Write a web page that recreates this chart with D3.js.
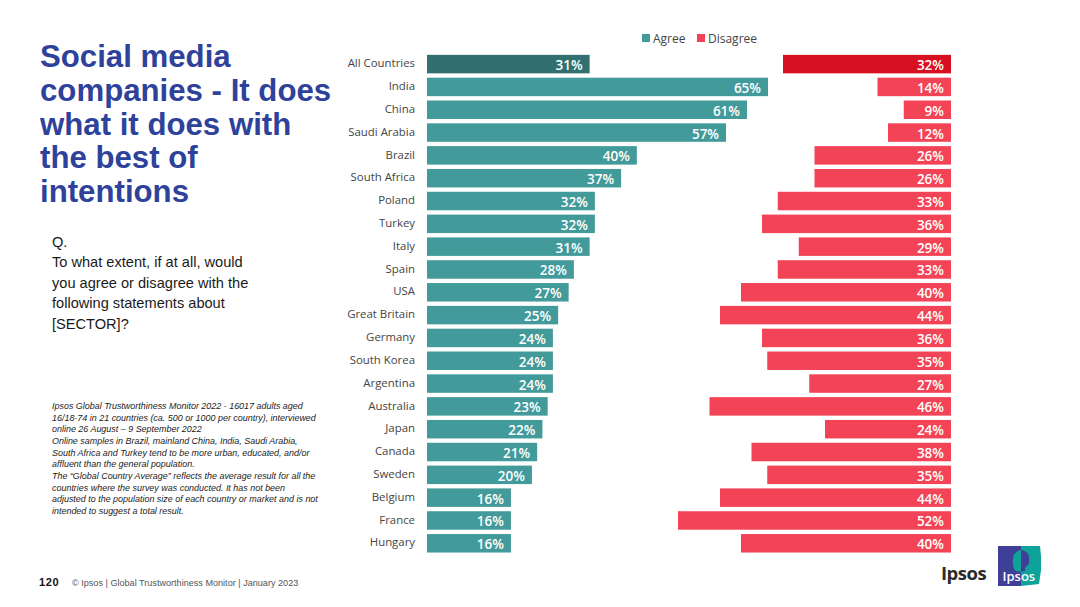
<!DOCTYPE html>
<html>
<head>
<meta charset="utf-8">
<script src="https://cdn.jsdelivr.net/npm/d3@7"></script>
<style>
  html, body { margin: 0; padding: 0; background: #fff; }
  svg { display: block; }
  text { font-family: "Liberation Sans", Arial, sans-serif; }
  .chart text { font-family: "Open Sans", sans-serif; }
</style>
</head>
<body>
<svg id="chart" width="1080" height="607"></svg>
<script>
const countries = ["All Countries", "India", "China", "Saudi Arabia", "Brazil", "South Africa", "Poland", "Turkey", "Italy", "Spain", "USA", "Great Britain", "Germany", "South Korea", "Argentina", "Australia", "Japan", "Canada", "Sweden", "Belgium", "France", "Hungary"]
const agree = [31, 65, 61, 57, 40, 37, 32, 32, 31, 28, 27, 25, 24, 24, 24, 23, 22, 21, 20, 16, 16, 16]
const disagree = [32, 14, 9, 12, 26, 26, 33, 36, 29, 33, 40, 44, 36, 35, 27, 46, 24, 38, 35, 44, 52, 40]
const legendLabels = ["Agree", "Disagree"]

const titleLines = ["Social media", "companies - It does", "what it does with", "the best of", "intentions"]
const questionLines = ["Q.", "To what extent, if at all, would", "you agree or disagree with the", "following statements about", "[SECTOR]?"]
const noteLines = [
  "Ipsos Global Trustworthiness Monitor 2022 - 16017 adults aged",
  "16/18-74 in 21 countries (ca. 500 or 1000 per country), interviewed",
  "online 26 August \u2013 9 September 2022",
  "Online samples in Brazil, mainland China, India, Saudi Arabia,",
  "South Africa and Turkey tend to be more urban, educated, and/or",
  "affluent than the general population.",
  "The \u201cGlobal Country Average\u201d reflects the average result for all the",
  "countries where the survey was conducted. It has not been",
  "adjusted to the population size of each country or market and is not",
  "intended to suggest a total result."
]

const teal = "#429a9a", tealDark = "#32706f"
const red = "#f34356", redDark = "#d61021"

const svg = d3.select("#chart")

// left hand text
const addLines = function(lines, x, y, step, size, attrs) {
  const t = svg.append("text").attr("font-size", size)
  Object.keys(attrs).forEach(k => t.attr(k, attrs[k]))
  t.selectAll("tspan").data(lines).join("tspan")
    .attr("x", x)
    .attr("y", (d, i) => y + i * step)
    .text(d => d)
}
addLines(titleLines, 40, 67, 33.8, 31.2, {"font-weight": "bold", "fill": "#2e429b"})
addLines(questionLines, 52, 246.5, 20.6, 14.6, {"fill": "#1a1a1a"})
addLines(noteLines, 52, 409, 11.65, 8.95, {"font-style": "italic", "fill": "#222"})

svg.append("text").attr("x", 39).attr("y", 585.5).attr("font-size", 11)
  .attr("font-weight", "bold").attr("fill", "#111").attr("letter-spacing", 0.6).text("120")
svg.append("text").attr("x", 72).attr("y", 586).attr("font-size", 9.1)
  .attr("fill", "#555").text("\u00a9 Ipsos | Global Trustworthiness Monitor | January 2023")

// chart
const chart = svg.append("g").attr("class", "chart")

const y = d3.scaleBand().domain(countries).range([52.7, 554.7]).paddingInner(0.19).paddingOuter(0.095)
const xAgree = d3.scaleLinear().domain([0, 65]).range([427, 768])
const xDisagree = d3.scaleLinear().domain([0, 32]).range([951, 783])

const yAxis = d3.axisLeft(y).tickSize(0).tickPadding(12)
const axisG = chart.append("g").attr("transform", "translate(427,0)").call(yAxis)
axisG.select(".domain").remove()
axisG.selectAll("text").attr("font-size", 11.4).attr("fill", "#444").attr("dy", "0.28em")

chart.selectAll(".agree").data(countries).join("rect")
  .attr("class", "agree")
  .attr("x", xAgree(0))
  .attr("y", d => y(d))
  .attr("width", (d, i) => xAgree(agree[i]) - xAgree(0))
  .attr("height", y.bandwidth())
  .attr("fill", (d, i) => i == 0 ? tealDark : teal)

chart.selectAll(".disagree").data(countries).join("rect")
  .attr("class", "disagree")
  .attr("x", (d, i) => xDisagree(disagree[i]))
  .attr("y", d => y(d))
  .attr("width", (d, i) => xDisagree(0) - xDisagree(disagree[i]))
  .attr("height", y.bandwidth())
  .attr("fill", (d, i) => i == 0 ? redDark : red)

chart.selectAll(".agree-label").data(countries).join("text")
  .attr("class", "agree-label")
  .attr("x", (d, i) => xAgree(agree[i]) - 7)
  .attr("y", d => y(d) + y.bandwidth() / 2 + 6)
  .attr("text-anchor", "end").attr("font-size", 13.5).attr("font-weight", 600).attr("fill", "#fff")
  .text((d, i) => agree[i] + "%")

chart.selectAll(".disagree-label").data(countries).join("text")
  .attr("class", "disagree-label")
  .attr("x", xDisagree(0) - 7)
  .attr("y", d => y(d) + y.bandwidth() / 2 + 6)
  .attr("text-anchor", "end").attr("font-size", 13.5).attr("font-weight", 600).attr("fill", "#fff")
  .text((d, i) => disagree[i] + "%")

// legend
const legendX = d3.scaleOrdinal().domain(legendLabels).range([642, 697])
const legend = chart.selectAll(".legend").data(legendLabels).join("g")
  .attr("class", "legend")
  .attr("transform", d => "translate(" + legendX(d) + ",34)")
legend.append("rect").attr("width", 8).attr("height", 8).attr("fill", (d, i) => i == 0 ? teal : red)
legend.append("text").attr("x", 11).attr("y", 8.5).attr("font-size", 12).attr("fill", "#444").text(d => d)

// logos
svg.append("text").attr("x", 941).attr("y", 580).attr("font-size", 18.5).attr("font-weight", "bold")
  .attr("fill", "#2b2b2b").attr("letter-spacing", -0.5).style("font-family", "'Open Sans', sans-serif").text("Ipsos")
const logo = svg.append("g").attr("transform", "translate(998,546)")
const headShape = d3.line().curve(d3.curveCardinalClosed)([[15, 19], [16, 9], [23, 4], [30, 8], [31, 17], [27, 22], [27, 25], [18, 25]])
logo.append("rect").attr("width", 23).attr("height", 40).attr("fill", "#3f3f98")
logo.append("path").attr("d", d3.line()([[23, 0], [42, 0], [43, 10], [43, 24], [41, 38], [23, 40]])).attr("fill", "#0ea39a")
logo.append("clipPath").attr("id", "head-left").append("rect").attr("width", 23).attr("height", 40)
logo.append("clipPath").attr("id", "head-right").append("rect").attr("x", 23).attr("width", 20).attr("height", 40)
logo.append("path").attr("d", headShape).attr("fill", "#0ea39a").attr("clip-path", "url(#head-left)")
logo.append("path").attr("d", headShape).attr("fill", "#3f3f98").attr("clip-path", "url(#head-right)")
logo.append("text").attr("x", 4.5).attr("y", 35).attr("font-size", 13).attr("font-weight", 600).attr("fill", "#fff")
  .style("font-family", "'Open Sans', sans-serif").text("Ipsos")
</script>
</body>
</html>
